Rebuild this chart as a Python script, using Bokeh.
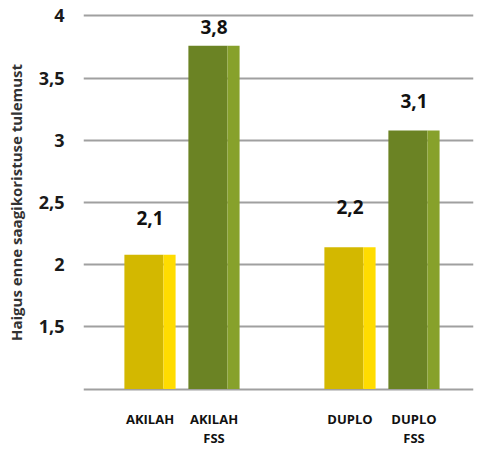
from bokeh.plotting import figure
from bokeh.models import Range1d, FixedTicker, ColumnDataSource
from bokeh.core.properties import value
from bokeh.embed import file_html
from bokeh.resources import INLINE

# ---- data ----
categories = ["AKILAH", "AKILAH\nFSS", "DUPLO", "DUPLO\nFSS"]
values = [2.08, 3.76, 2.14, 3.08]
value_labels = ["2,1", "3,8", "2,2", "3,1"]
groups = [0, 0, 1, 1]
members = [0, 1, 0, 1]
y_ticks = [1, 1.5, 2, 2.5, 3, 3.5, 4]
y_tick_labels = ["", "1,5", "2", "2,5", "3", "3,5", "4"]
y_title = "Haigus enne saagikoristuse tulemust"

# ---- layout / style ----
GROUP_STEP = 3.125
BAR_W = 0.80
STRIP_W = 0.19
MAIN_W = BAR_W - STRIP_W
xpos = [g * GROUP_STEP + m for g, m in zip(groups, members)]
main_colors = ["#D3B800" if m == 0 else "#6B8324" for m in members]
strip_colors = ["#FFDC00" if m == 0 else "#87A12B" for m in members]
label_offsets = [-37, -19, -40, -29]

src = ColumnDataSource(dict(
    x_main=[x - BAR_W / 2 + MAIN_W / 2 for x in xpos],
    x_strip=[x + BAR_W / 2 - STRIP_W / 2 for x in xpos],
    x=xpos,
    top=values,
    main_color=main_colors,
    strip_color=strip_colors,
    label=value_labels,
    yoff=label_offsets,
))

p = figure(width=478, height=451, output_backend="svg", toolbar_location=None,
           x_range=Range1d(-1.039, 5.055), y_range=Range1d(0.98, 4.02),
           min_border_left=83, min_border_right=5, min_border_top=13, min_border_bottom=60)
p.outline_line_color = None
p.background_fill_color = "white"
p.border_fill_color = "white"

p.vbar(x="x_main", width=MAIN_W, bottom=1, top="top", source=src,
       fill_color="main_color", line_color=None)
p.vbar(x="x_strip", width=STRIP_W, bottom=1, top="top", source=src,
       fill_color="strip_color", line_color=None)
p.text(x="x", y="top", text="label", y_offset="yoff", source=src,
       text_align="center", text_baseline="middle",
       text_font=value("Open Sans"), text_font_style="bold",
       text_font_size="19px", text_color="#111111")

# grid
p.xgrid.grid_line_color = None
p.ygrid.grid_line_color = "#A0A0A0"
p.ygrid.grid_line_width = 2
p.ygrid.ticker = FixedTicker(ticks=y_ticks)

# y axis
p.yaxis.ticker = FixedTicker(ticks=y_ticks)
p.yaxis.major_label_overrides = {t: l for t, l in zip(y_ticks, y_tick_labels)}
p.yaxis.axis_line_color = None
p.yaxis.major_tick_line_color = None
p.yaxis.minor_tick_line_color = None
p.yaxis.major_label_standoff = 13
p.yaxis.major_label_text_font = "Open Sans"
p.yaxis.major_label_text_font_style = "bold"
p.yaxis.major_label_text_font_size = "18px"
p.yaxis.major_label_text_color = "#1a1a1a"
p.yaxis.axis_label = y_title
p.yaxis.axis_label_text_font = "Open Sans"
p.yaxis.axis_label_text_font_style = "bold"
p.yaxis.axis_label_text_font_size = "15px"
p.yaxis.axis_label_text_color = "#333333"
p.yaxis.axis_label_standoff = 10

# x axis
p.xaxis.ticker = FixedTicker(ticks=xpos)
p.xaxis.major_label_overrides = {x: c for x, c in zip(xpos, categories)}
p.xaxis.axis_line_color = None
p.xaxis.major_tick_line_color = None
p.xaxis.minor_tick_line_color = None
p.xaxis.major_label_standoff = 12
p.xaxis.major_label_text_font = "Open Sans"
p.xaxis.major_label_text_font_style = "bold"
p.xaxis.major_label_text_font_size = "13px"
p.xaxis.major_label_text_color = "#111111"
p.xaxis.major_label_text_line_height = 1.1

open("out.html", "w").write(file_html(p, INLINE))
